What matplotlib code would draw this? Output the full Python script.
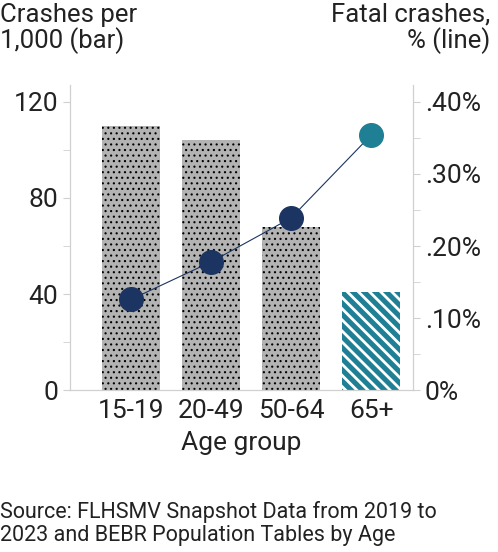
import matplotlib
matplotlib.use("Agg")
import matplotlib.pyplot as plt
from matplotlib.ticker import FixedLocator, FuncFormatter

plt.rcParams['font.family'] = ['Roboto', 'DejaVu Sans']

groups = ["15-19", "20-49", "50-64", "65+"]
crashes_per_1000 = [110, 104, 68, 41]
fatal_pct = [0.126, 0.178, 0.239, 0.354]

GRAY = "#b3b3b3"; TEAL = "#1f7f94"; NAVY = "#1c3461"; SP = "#d0d0d0"

fig = plt.figure(figsize=(4.98, 5.52), dpi=100)
ax = fig.add_axes([0.141, 0.293, 0.688, 0.553])
ax2 = ax.twinx()
x = list(range(len(groups)))
for i, v in enumerate(crashes_per_1000):
    if i < 3:
        plt.rcParams['hatch.linewidth'] = 0.8
        ax.bar(i, v, width=0.72, color=GRAY, edgecolor="black", hatch="...", linewidth=0)
    else:
        plt.rcParams['hatch.linewidth'] = 2.0
        ax.bar(i, v, width=0.72, color=TEAL, edgecolor="white", hatch="\\\\\\", linewidth=0)
ax.set_xlim(-0.76, 3.52)
ax.set_ylim(0, 127)
ax2.set_ylim(0, 0.4 * 127 / 120)
ax2.plot(x, fatal_pct, color=NAVY, lw=0.8, zorder=3)
for i, v in enumerate(fatal_pct):
    ax2.plot(i, v, 'o', ms=17, color=TEAL if i == 3 else NAVY, zorder=4)

ax.set_yticks([0, 40, 80, 120])
ax.yaxis.set_minor_locator(FixedLocator([20, 60, 100]))
ax2.set_yticks([0, 0.1, 0.2, 0.3, 0.4])
ax2.yaxis.set_major_formatter(FuncFormatter(lambda v, p: "0%" if v == 0 else ("%.2f%%" % v)[1:]))
ax2.yaxis.set_minor_locator(FixedLocator([0.05, 0.15, 0.25, 0.35]))
ax.set_xticks(x); ax.set_xticklabels(groups)
for a in (ax, ax2):
    for s in a.spines.values():
        s.set_color(SP)
    a.spines['top'].set_visible(False)
    a.tick_params(axis='y', which='both', colors=SP, labelcolor="#222222", labelsize=19, length=5)
ax.tick_params(axis='x', length=0, labelsize=19, labelcolor="#222222", pad=6)
ax.set_xlabel("Age group", fontsize=19, color="#222222", labelpad=6)

fig.text(0.0, 0.995, "Crashes per\n1,000 (bar)", fontsize=18.5, color="#222222", va="top", ha="left", linespacing=1.0)
fig.text(0.985, 0.995, "Fatal crashes,\n% (line)", fontsize=18.5, color="#222222", va="top", ha="right", multialignment="right", linespacing=1.0)
fig.text(0.0, 0.01, "Source: FLHSMV Snapshot Data from 2019 to\n2023 and BEBR Population Tables by Age", fontsize=15.5, color="#222222", va="bottom", ha="left", linespacing=1.15)
fig.savefig("out.png", dpi=100)
